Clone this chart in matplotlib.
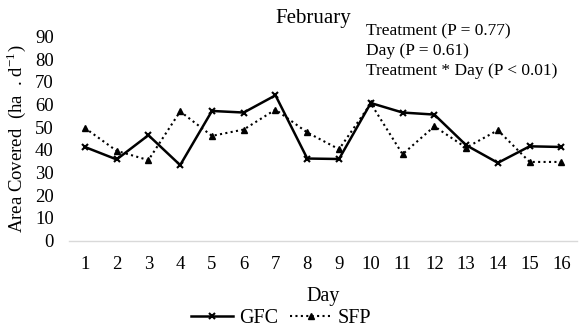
import numpy as np
import matplotlib
matplotlib.use("Agg")
import matplotlib.pyplot as plt

plt.rcParams['font.family'] = ['Liberation Serif', 'DejaVu Serif']
plt.rcParams['mathtext.fontset'] = 'stix'

# ----------------------------------------
# Data
days = list(range(1, 17))
gfc = [41.3, 35.8, 46.5, 33.3, 57.2, 56.5, 64.1, 36.2, 36.0, 60.7, 56.5, 55.6, 42.1, 34.3, 41.6, 41.3]
sfp = [49.7, 39.6, 35.5, 57.0, 46.2, 49.0, 57.8, 47.7, 40.3, 60.5, 38.1, 50.4, 41.0, 48.7, 34.7, 34.7]
y_ticks = list(range(0, 100, 10))
stats_text = ["Treatment (P = 0.77)", "Day (P = 0.61)", "Treatment * Day (P < 0.01)"]

# ----------------------------------------
fig = plt.figure(figsize=(5.87, 3.30), dpi=100)
ax = fig.add_axes([0.1175, 0.271, 0.866, 0.618])

ax.plot(days, gfc, color='black', linewidth=1.8, marker='x', markersize=4,
        markeredgewidth=1.5, label='GFC')
ax.plot(days, sfp, color='black', linewidth=1.5, linestyle=(0, (1, 1.6)),
        marker='^', markersize=4, label='SFP')

ax.set_xlim(0.5, 16.5)
ax.set_ylim(0, 90)
ax.set_xticks(days)
ax.set_yticks(y_ticks)
ax.tick_params(length=0, labelsize=13.5)
ax.tick_params(axis='y', pad=11)
ax.tick_params(axis='x', pad=11)

for side in ['top', 'right', 'left']:
    ax.spines[side].set_visible(False)
ax.spines['bottom'].set_color('#d9d9d9')
ax.spines['bottom'].set_linewidth(1.0)

ax.set_xlabel('Day', fontsize=14.5, labelpad=10)
ax.set_ylabel(r'Area Covered  (ha  . d$^{\mathregular{-1}}$)', fontsize=13.5)
ax.yaxis.set_label_coords(-0.081, 0.5)

fig.text(0.533, 0.945, 'February', ha='center', va='center', fontsize=15)
fig.text(0.623, 0.93, "\n".join(stats_text), ha='left', va='top', fontsize=12.5,
         linespacing=1.35)

fig.legend(loc='center', bbox_to_anchor=(0.479, 0.036), ncol=2, frameon=False,
           fontsize=14.5, handlelength=2.05, handletextpad=0.3, columnspacing=0.6)

fig.savefig('out.png', dpi=100)
